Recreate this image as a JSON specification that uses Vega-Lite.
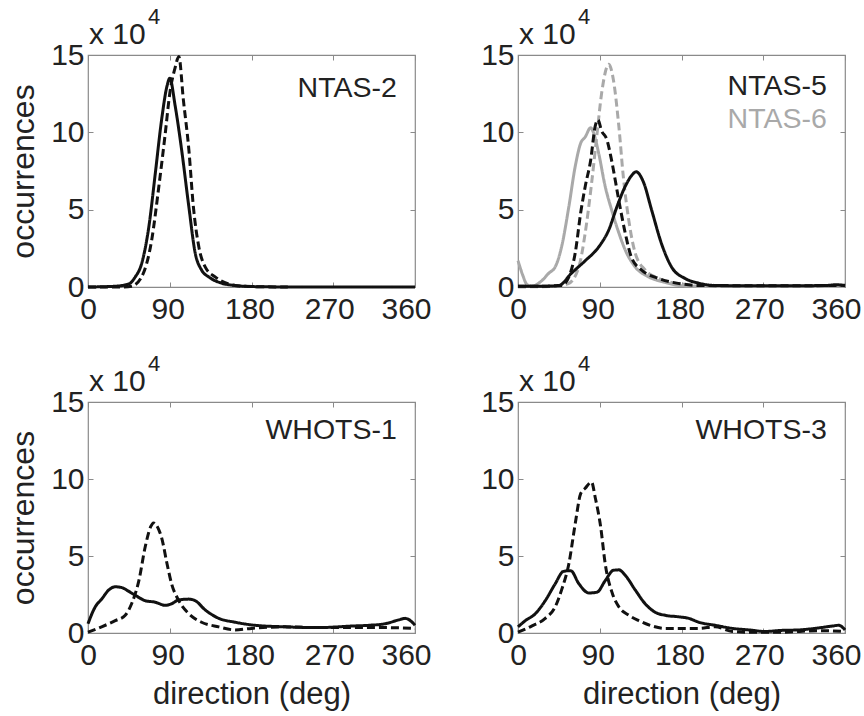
{
  "$schema": "https://vega.github.io/schema/vega-lite/v6.json",
  "background": "white",
  "padding": {"left": 7, "top": 5, "right": 2, "bottom": 2},
  "config": {
    "font": "Liberation Sans",
    "view": {"stroke": "#8a8a8a", "strokeWidth": 1.2},
    "axis": {"grid": false, "domain": false, "tickSize": -5, "tickColor": "#8a8a8a", "tickWidth": 1, "labelFontSize": 30, "labelColor": "#222", "labelFlush": false, "labelOverlap": false, "titleFontSize": 32, "titleFontWeight": "normal", "titleColor": "#222"},
    "axisX": {"labelPadding": 12, "labelOffset": {"condition": [{"test": "datum.value === 360", "value": -9}, {"test": "datum.value === 270", "value": -4}, {"test": "datum.value === 0", "value": 0}], "value": -2}},
    "axisY": {"labelPadding": 9},
    "line": {"strokeWidth": 3, "interpolate": "monotone"},
    "text": {"fontSize": 28.5, "align": "right", "baseline": "alphabetic", "color": "#222"}
  },
  "datasets": {
    "curves": [
      {"panel":"NTAS-2","mooring":"NTAS-2","style":"solid","dir":0,"occ":0},
      {"panel":"NTAS-2","mooring":"NTAS-2","style":"solid","dir":30,"occ":500},
      {"panel":"NTAS-2","mooring":"NTAS-2","style":"solid","dir":45,"occ":2000},
      {"panel":"NTAS-2","mooring":"NTAS-2","style":"solid","dir":52,"occ":6500},
      {"panel":"NTAS-2","mooring":"NTAS-2","style":"solid","dir":59,"occ":15000},
      {"panel":"NTAS-2","mooring":"NTAS-2","style":"solid","dir":67,"occ":39000},
      {"panel":"NTAS-2","mooring":"NTAS-2","style":"solid","dir":74,"occ":73000},
      {"panel":"NTAS-2","mooring":"NTAS-2","style":"solid","dir":81,"occ":108000},
      {"panel":"NTAS-2","mooring":"NTAS-2","style":"solid","dir":87,"occ":130000},
      {"panel":"NTAS-2","mooring":"NTAS-2","style":"solid","dir":90,"occ":135000},
      {"panel":"NTAS-2","mooring":"NTAS-2","style":"solid","dir":96,"occ":117000},
      {"panel":"NTAS-2","mooring":"NTAS-2","style":"solid","dir":103,"occ":89000},
      {"panel":"NTAS-2","mooring":"NTAS-2","style":"solid","dir":111,"occ":52000},
      {"panel":"NTAS-2","mooring":"NTAS-2","style":"solid","dir":118,"occ":22000},
      {"panel":"NTAS-2","mooring":"NTAS-2","style":"solid","dir":125,"occ":11000},
      {"panel":"NTAS-2","mooring":"NTAS-2","style":"solid","dir":133,"occ":6500},
      {"panel":"NTAS-2","mooring":"NTAS-2","style":"solid","dir":147,"occ":2500},
      {"panel":"NTAS-2","mooring":"NTAS-2","style":"solid","dir":162,"occ":1000},
      {"panel":"NTAS-2","mooring":"NTAS-2","style":"solid","dir":180,"occ":300},
      {"panel":"NTAS-2","mooring":"NTAS-2","style":"solid","dir":220,"occ":0},
      {"panel":"NTAS-2","mooring":"NTAS-2","style":"solid","dir":360,"occ":0},
      {"panel":"NTAS-2","mooring":"NTAS-2","style":"dashed","dir":0,"occ":0},
      {"panel":"NTAS-2","mooring":"NTAS-2","style":"dashed","dir":40,"occ":0},
      {"panel":"NTAS-2","mooring":"NTAS-2","style":"dashed","dir":48,"occ":500},
      {"panel":"NTAS-2","mooring":"NTAS-2","style":"dashed","dir":59,"occ":6500},
      {"panel":"NTAS-2","mooring":"NTAS-2","style":"dashed","dir":70,"occ":30000},
      {"panel":"NTAS-2","mooring":"NTAS-2","style":"dashed","dir":78,"occ":65000},
      {"panel":"NTAS-2","mooring":"NTAS-2","style":"dashed","dir":85,"occ":99000},
      {"panel":"NTAS-2","mooring":"NTAS-2","style":"dashed","dir":90,"occ":125000},
      {"panel":"NTAS-2","mooring":"NTAS-2","style":"dashed","dir":96,"occ":142000},
      {"panel":"NTAS-2","mooring":"NTAS-2","style":"dashed","dir":100,"occ":149000},
      {"panel":"NTAS-2","mooring":"NTAS-2","style":"dashed","dir":105,"occ":121000},
      {"panel":"NTAS-2","mooring":"NTAS-2","style":"dashed","dir":111,"occ":89000},
      {"panel":"NTAS-2","mooring":"NTAS-2","style":"dashed","dir":116,"occ":52000},
      {"panel":"NTAS-2","mooring":"NTAS-2","style":"dashed","dir":122,"occ":26000},
      {"panel":"NTAS-2","mooring":"NTAS-2","style":"dashed","dir":129,"occ":13000},
      {"panel":"NTAS-2","mooring":"NTAS-2","style":"dashed","dir":140,"occ":6500},
      {"panel":"NTAS-2","mooring":"NTAS-2","style":"dashed","dir":155,"occ":2000},
      {"panel":"NTAS-2","mooring":"NTAS-2","style":"dashed","dir":170,"occ":500},
      {"panel":"NTAS-2","mooring":"NTAS-2","style":"dashed","dir":200,"occ":100},
      {"panel":"NTAS-2","mooring":"NTAS-2","style":"dashed","dir":220,"occ":0},

      {"panel":"NTAS-5","mooring":"NTAS-6","style":"solid","dir":0,"occ":17000},
      {"panel":"NTAS-5","mooring":"NTAS-6","style":"solid","dir":5,"occ":8000},
      {"panel":"NTAS-5","mooring":"NTAS-6","style":"solid","dir":10,"occ":1500},
      {"panel":"NTAS-5","mooring":"NTAS-6","style":"solid","dir":15,"occ":500},
      {"panel":"NTAS-5","mooring":"NTAS-6","style":"solid","dir":26,"occ":4000},
      {"panel":"NTAS-5","mooring":"NTAS-6","style":"solid","dir":34,"occ":9000},
      {"panel":"NTAS-5","mooring":"NTAS-6","style":"solid","dir":41,"occ":13000},
      {"panel":"NTAS-5","mooring":"NTAS-6","style":"solid","dir":48,"occ":26000},
      {"panel":"NTAS-5","mooring":"NTAS-6","style":"solid","dir":56,"occ":52000},
      {"panel":"NTAS-5","mooring":"NTAS-6","style":"solid","dir":63,"occ":78000},
      {"panel":"NTAS-5","mooring":"NTAS-6","style":"solid","dir":69,"occ":93000},
      {"panel":"NTAS-5","mooring":"NTAS-6","style":"solid","dir":74,"occ":97000},
      {"panel":"NTAS-5","mooring":"NTAS-6","style":"solid","dir":80,"occ":103000},
      {"panel":"NTAS-5","mooring":"NTAS-6","style":"solid","dir":83,"occ":100000},
      {"panel":"NTAS-5","mooring":"NTAS-6","style":"solid","dir":89,"occ":86000},
      {"panel":"NTAS-5","mooring":"NTAS-6","style":"solid","dir":96,"occ":65000},
      {"panel":"NTAS-5","mooring":"NTAS-6","style":"solid","dir":103,"occ":50000},
      {"panel":"NTAS-5","mooring":"NTAS-6","style":"solid","dir":111,"occ":35000},
      {"panel":"NTAS-5","mooring":"NTAS-6","style":"solid","dir":118,"occ":24000},
      {"panel":"NTAS-5","mooring":"NTAS-6","style":"solid","dir":129,"occ":13000},
      {"panel":"NTAS-5","mooring":"NTAS-6","style":"solid","dir":144,"occ":6500},
      {"panel":"NTAS-5","mooring":"NTAS-6","style":"solid","dir":162,"occ":3000},
      {"panel":"NTAS-5","mooring":"NTAS-6","style":"solid","dir":180,"occ":800},
      {"panel":"NTAS-5","mooring":"NTAS-6","style":"solid","dir":220,"occ":300},
      {"panel":"NTAS-5","mooring":"NTAS-6","style":"solid","dir":360,"occ":300},
      {"panel":"NTAS-5","mooring":"NTAS-6","style":"dashed","dir":0,"occ":0},
      {"panel":"NTAS-5","mooring":"NTAS-6","style":"dashed","dir":40,"occ":500},
      {"panel":"NTAS-5","mooring":"NTAS-6","style":"dashed","dir":55,"occ":2000},
      {"panel":"NTAS-5","mooring":"NTAS-6","style":"dashed","dir":67,"occ":13000},
      {"panel":"NTAS-5","mooring":"NTAS-6","style":"dashed","dir":74,"occ":35000},
      {"panel":"NTAS-5","mooring":"NTAS-6","style":"dashed","dir":81,"occ":67000},
      {"panel":"NTAS-5","mooring":"NTAS-6","style":"dashed","dir":87,"occ":99000},
      {"panel":"NTAS-5","mooring":"NTAS-6","style":"dashed","dir":92,"occ":125000},
      {"panel":"NTAS-5","mooring":"NTAS-6","style":"dashed","dir":100,"occ":144000},
      {"panel":"NTAS-5","mooring":"NTAS-6","style":"dashed","dir":105,"occ":134000},
      {"panel":"NTAS-5","mooring":"NTAS-6","style":"dashed","dir":111,"occ":104000},
      {"panel":"NTAS-5","mooring":"NTAS-6","style":"dashed","dir":116,"occ":71000},
      {"panel":"NTAS-5","mooring":"NTAS-6","style":"dashed","dir":122,"occ":43000},
      {"panel":"NTAS-5","mooring":"NTAS-6","style":"dashed","dir":129,"occ":22000},
      {"panel":"NTAS-5","mooring":"NTAS-6","style":"dashed","dir":140,"occ":11000},
      {"panel":"NTAS-5","mooring":"NTAS-6","style":"dashed","dir":155,"occ":5500},
      {"panel":"NTAS-5","mooring":"NTAS-6","style":"dashed","dir":180,"occ":2000},
      {"panel":"NTAS-5","mooring":"NTAS-6","style":"dashed","dir":200,"occ":500},
      {"panel":"NTAS-5","mooring":"NTAS-6","style":"dashed","dir":360,"occ":300},
      {"panel":"NTAS-5","mooring":"NTAS-5","style":"solid","dir":0,"occ":500},
      {"panel":"NTAS-5","mooring":"NTAS-5","style":"solid","dir":26,"occ":500},
      {"panel":"NTAS-5","mooring":"NTAS-5","style":"solid","dir":45,"occ":1000},
      {"panel":"NTAS-5","mooring":"NTAS-5","style":"solid","dir":59,"occ":9000},
      {"panel":"NTAS-5","mooring":"NTAS-5","style":"solid","dir":74,"occ":17000},
      {"panel":"NTAS-5","mooring":"NTAS-5","style":"solid","dir":89,"occ":26000},
      {"panel":"NTAS-5","mooring":"NTAS-5","style":"solid","dir":100,"occ":37000},
      {"panel":"NTAS-5","mooring":"NTAS-5","style":"solid","dir":109,"occ":52000},
      {"panel":"NTAS-5","mooring":"NTAS-5","style":"solid","dir":118,"occ":65000},
      {"panel":"NTAS-5","mooring":"NTAS-5","style":"solid","dir":125,"occ":72000},
      {"panel":"NTAS-5","mooring":"NTAS-5","style":"solid","dir":130,"occ":74500},
      {"panel":"NTAS-5","mooring":"NTAS-5","style":"solid","dir":138,"occ":68000},
      {"panel":"NTAS-5","mooring":"NTAS-5","style":"solid","dir":147,"occ":50000},
      {"panel":"NTAS-5","mooring":"NTAS-5","style":"solid","dir":158,"occ":28000},
      {"panel":"NTAS-5","mooring":"NTAS-5","style":"solid","dir":169,"occ":13000},
      {"panel":"NTAS-5","mooring":"NTAS-5","style":"solid","dir":184,"occ":5500},
      {"panel":"NTAS-5","mooring":"NTAS-5","style":"solid","dir":199,"occ":2500},
      {"panel":"NTAS-5","mooring":"NTAS-5","style":"solid","dir":217,"occ":1000},
      {"panel":"NTAS-5","mooring":"NTAS-5","style":"solid","dir":260,"occ":800},
      {"panel":"NTAS-5","mooring":"NTAS-5","style":"solid","dir":300,"occ":800},
      {"panel":"NTAS-5","mooring":"NTAS-5","style":"solid","dir":340,"occ":1000},
      {"panel":"NTAS-5","mooring":"NTAS-5","style":"solid","dir":350,"occ":1500},
      {"panel":"NTAS-5","mooring":"NTAS-5","style":"solid","dir":360,"occ":800},
      {"panel":"NTAS-5","mooring":"NTAS-5","style":"dashed","dir":0,"occ":500},
      {"panel":"NTAS-5","mooring":"NTAS-5","style":"dashed","dir":30,"occ":500},
      {"panel":"NTAS-5","mooring":"NTAS-5","style":"dashed","dir":48,"occ":1000},
      {"panel":"NTAS-5","mooring":"NTAS-5","style":"dashed","dir":56,"occ":6500},
      {"panel":"NTAS-5","mooring":"NTAS-5","style":"dashed","dir":63,"occ":22000},
      {"panel":"NTAS-5","mooring":"NTAS-5","style":"dashed","dir":69,"occ":48000},
      {"panel":"NTAS-5","mooring":"NTAS-5","style":"dashed","dir":74,"occ":65000},
      {"panel":"NTAS-5","mooring":"NTAS-5","style":"dashed","dir":80,"occ":82000},
      {"panel":"NTAS-5","mooring":"NTAS-5","style":"dashed","dir":85,"occ":104000},
      {"panel":"NTAS-5","mooring":"NTAS-5","style":"dashed","dir":88,"occ":108000},
      {"panel":"NTAS-5","mooring":"NTAS-5","style":"dashed","dir":92,"occ":101000},
      {"panel":"NTAS-5","mooring":"NTAS-5","style":"dashed","dir":98,"occ":95000},
      {"panel":"NTAS-5","mooring":"NTAS-5","style":"dashed","dir":103,"occ":82000},
      {"panel":"NTAS-5","mooring":"NTAS-5","style":"dashed","dir":111,"occ":56000},
      {"panel":"NTAS-5","mooring":"NTAS-5","style":"dashed","dir":118,"occ":35000},
      {"panel":"NTAS-5","mooring":"NTAS-5","style":"dashed","dir":125,"occ":19000},
      {"panel":"NTAS-5","mooring":"NTAS-5","style":"dashed","dir":136,"occ":11000},
      {"panel":"NTAS-5","mooring":"NTAS-5","style":"dashed","dir":155,"occ":5500},
      {"panel":"NTAS-5","mooring":"NTAS-5","style":"dashed","dir":180,"occ":2000},
      {"panel":"NTAS-5","mooring":"NTAS-5","style":"dashed","dir":199,"occ":1000},
      {"panel":"NTAS-5","mooring":"NTAS-5","style":"dashed","dir":250,"occ":800},
      {"panel":"NTAS-5","mooring":"NTAS-5","style":"dashed","dir":300,"occ":800},
      {"panel":"NTAS-5","mooring":"NTAS-5","style":"dashed","dir":350,"occ":1000},
      {"panel":"NTAS-5","mooring":"NTAS-5","style":"dashed","dir":360,"occ":1200},

      {"panel":"WHOTS-1","mooring":"WHOTS-1","style":"solid","dir":0,"occ":6000},
      {"panel":"WHOTS-1","mooring":"WHOTS-1","style":"solid","dir":8,"occ":17000},
      {"panel":"WHOTS-1","mooring":"WHOTS-1","style":"solid","dir":15,"occ":22000},
      {"panel":"WHOTS-1","mooring":"WHOTS-1","style":"solid","dir":23,"occ":28000},
      {"panel":"WHOTS-1","mooring":"WHOTS-1","style":"solid","dir":30,"occ":30000},
      {"panel":"WHOTS-1","mooring":"WHOTS-1","style":"solid","dir":37,"occ":29500},
      {"panel":"WHOTS-1","mooring":"WHOTS-1","style":"solid","dir":45,"occ":27000},
      {"panel":"WHOTS-1","mooring":"WHOTS-1","style":"solid","dir":52,"occ":24500},
      {"panel":"WHOTS-1","mooring":"WHOTS-1","style":"solid","dir":63,"occ":21000},
      {"panel":"WHOTS-1","mooring":"WHOTS-1","style":"solid","dir":74,"occ":20000},
      {"panel":"WHOTS-1","mooring":"WHOTS-1","style":"solid","dir":85,"occ":18000},
      {"panel":"WHOTS-1","mooring":"WHOTS-1","style":"solid","dir":92,"occ":19000},
      {"panel":"WHOTS-1","mooring":"WHOTS-1","style":"solid","dir":100,"occ":21500},
      {"panel":"WHOTS-1","mooring":"WHOTS-1","style":"solid","dir":111,"occ":22000},
      {"panel":"WHOTS-1","mooring":"WHOTS-1","style":"solid","dir":118,"occ":21000},
      {"panel":"WHOTS-1","mooring":"WHOTS-1","style":"solid","dir":129,"occ":15000},
      {"panel":"WHOTS-1","mooring":"WHOTS-1","style":"solid","dir":144,"occ":9500},
      {"panel":"WHOTS-1","mooring":"WHOTS-1","style":"solid","dir":162,"occ":7000},
      {"panel":"WHOTS-1","mooring":"WHOTS-1","style":"solid","dir":184,"occ":5000},
      {"panel":"WHOTS-1","mooring":"WHOTS-1","style":"solid","dir":217,"occ":4000},
      {"panel":"WHOTS-1","mooring":"WHOTS-1","style":"solid","dir":254,"occ":3500},
      {"panel":"WHOTS-1","mooring":"WHOTS-1","style":"solid","dir":290,"occ":4500},
      {"panel":"WHOTS-1","mooring":"WHOTS-1","style":"solid","dir":309,"occ":5000},
      {"panel":"WHOTS-1","mooring":"WHOTS-1","style":"solid","dir":327,"occ":6000},
      {"panel":"WHOTS-1","mooring":"WHOTS-1","style":"solid","dir":342,"occ":8500},
      {"panel":"WHOTS-1","mooring":"WHOTS-1","style":"solid","dir":349,"occ":9500},
      {"panel":"WHOTS-1","mooring":"WHOTS-1","style":"solid","dir":355,"occ":8000},
      {"panel":"WHOTS-1","mooring":"WHOTS-1","style":"solid","dir":360,"occ":5000},
      {"panel":"WHOTS-1","mooring":"WHOTS-1","style":"dashed","dir":0,"occ":500},
      {"panel":"WHOTS-1","mooring":"WHOTS-1","style":"dashed","dir":15,"occ":4000},
      {"panel":"WHOTS-1","mooring":"WHOTS-1","style":"dashed","dir":30,"occ":8000},
      {"panel":"WHOTS-1","mooring":"WHOTS-1","style":"dashed","dir":41,"occ":11500},
      {"panel":"WHOTS-1","mooring":"WHOTS-1","style":"dashed","dir":48,"occ":19000},
      {"panel":"WHOTS-1","mooring":"WHOTS-1","style":"dashed","dir":56,"occ":34000},
      {"panel":"WHOTS-1","mooring":"WHOTS-1","style":"dashed","dir":63,"occ":56000},
      {"panel":"WHOTS-1","mooring":"WHOTS-1","style":"dashed","dir":69,"occ":69000},
      {"panel":"WHOTS-1","mooring":"WHOTS-1","style":"dashed","dir":72,"occ":71500},
      {"panel":"WHOTS-1","mooring":"WHOTS-1","style":"dashed","dir":78,"occ":67000},
      {"panel":"WHOTS-1","mooring":"WHOTS-1","style":"dashed","dir":81,"occ":62000},
      {"panel":"WHOTS-1","mooring":"WHOTS-1","style":"dashed","dir":87,"occ":45000},
      {"panel":"WHOTS-1","mooring":"WHOTS-1","style":"dashed","dir":92,"occ":32000},
      {"panel":"WHOTS-1","mooring":"WHOTS-1","style":"dashed","dir":100,"occ":21000},
      {"panel":"WHOTS-1","mooring":"WHOTS-1","style":"dashed","dir":111,"occ":12500},
      {"panel":"WHOTS-1","mooring":"WHOTS-1","style":"dashed","dir":125,"occ":7000},
      {"panel":"WHOTS-1","mooring":"WHOTS-1","style":"dashed","dir":144,"occ":4000},
      {"panel":"WHOTS-1","mooring":"WHOTS-1","style":"dashed","dir":162,"occ":2000},
      {"panel":"WHOTS-1","mooring":"WHOTS-1","style":"dashed","dir":180,"occ":3000},
      {"panel":"WHOTS-1","mooring":"WHOTS-1","style":"dashed","dir":217,"occ":4000},
      {"panel":"WHOTS-1","mooring":"WHOTS-1","style":"dashed","dir":254,"occ":3500},
      {"panel":"WHOTS-1","mooring":"WHOTS-1","style":"dashed","dir":290,"occ":3500},
      {"panel":"WHOTS-1","mooring":"WHOTS-1","style":"dashed","dir":327,"occ":3500},
      {"panel":"WHOTS-1","mooring":"WHOTS-1","style":"dashed","dir":360,"occ":3000},

      {"panel":"WHOTS-3","mooring":"WHOTS-3","style":"solid","dir":0,"occ":4000},
      {"panel":"WHOTS-3","mooring":"WHOTS-3","style":"solid","dir":8,"occ":8000},
      {"panel":"WHOTS-3","mooring":"WHOTS-3","style":"solid","dir":19,"occ":12500},
      {"panel":"WHOTS-3","mooring":"WHOTS-3","style":"solid","dir":30,"occ":21000},
      {"panel":"WHOTS-3","mooring":"WHOTS-3","style":"solid","dir":41,"occ":32000},
      {"panel":"WHOTS-3","mooring":"WHOTS-3","style":"solid","dir":50,"occ":40000},
      {"panel":"WHOTS-3","mooring":"WHOTS-3","style":"solid","dir":58,"occ":40500},
      {"panel":"WHOTS-3","mooring":"WHOTS-3","style":"solid","dir":67,"occ":32000},
      {"panel":"WHOTS-3","mooring":"WHOTS-3","style":"solid","dir":78,"occ":26000},
      {"panel":"WHOTS-3","mooring":"WHOTS-3","style":"solid","dir":87,"occ":26500},
      {"panel":"WHOTS-3","mooring":"WHOTS-3","style":"solid","dir":96,"occ":34000},
      {"panel":"WHOTS-3","mooring":"WHOTS-3","style":"solid","dir":105,"occ":40700},
      {"panel":"WHOTS-3","mooring":"WHOTS-3","style":"solid","dir":111,"occ":41000},
      {"panel":"WHOTS-3","mooring":"WHOTS-3","style":"solid","dir":118,"occ":37500},
      {"panel":"WHOTS-3","mooring":"WHOTS-3","style":"solid","dir":129,"occ":28000},
      {"panel":"WHOTS-3","mooring":"WHOTS-3","style":"solid","dir":140,"occ":19000},
      {"panel":"WHOTS-3","mooring":"WHOTS-3","style":"solid","dir":151,"occ":13500},
      {"panel":"WHOTS-3","mooring":"WHOTS-3","style":"solid","dir":162,"occ":11500},
      {"panel":"WHOTS-3","mooring":"WHOTS-3","style":"solid","dir":177,"occ":10500},
      {"panel":"WHOTS-3","mooring":"WHOTS-3","style":"solid","dir":188,"occ":9500},
      {"panel":"WHOTS-3","mooring":"WHOTS-3","style":"solid","dir":199,"occ":7000},
      {"panel":"WHOTS-3","mooring":"WHOTS-3","style":"solid","dir":217,"occ":5000},
      {"panel":"WHOTS-3","mooring":"WHOTS-3","style":"solid","dir":236,"occ":3000},
      {"panel":"WHOTS-3","mooring":"WHOTS-3","style":"solid","dir":254,"occ":2000},
      {"panel":"WHOTS-3","mooring":"WHOTS-3","style":"solid","dir":272,"occ":1000},
      {"panel":"WHOTS-3","mooring":"WHOTS-3","style":"solid","dir":290,"occ":1700},
      {"panel":"WHOTS-3","mooring":"WHOTS-3","style":"solid","dir":309,"occ":2000},
      {"panel":"WHOTS-3","mooring":"WHOTS-3","style":"solid","dir":327,"occ":3000},
      {"panel":"WHOTS-3","mooring":"WHOTS-3","style":"solid","dir":346,"occ":4500},
      {"panel":"WHOTS-3","mooring":"WHOTS-3","style":"solid","dir":353,"occ":5000},
      {"panel":"WHOTS-3","mooring":"WHOTS-3","style":"solid","dir":360,"occ":2000},
      {"panel":"WHOTS-3","mooring":"WHOTS-3","style":"dashed","dir":0,"occ":500},
      {"panel":"WHOTS-3","mooring":"WHOTS-3","style":"dashed","dir":15,"occ":4500},
      {"panel":"WHOTS-3","mooring":"WHOTS-3","style":"dashed","dir":30,"occ":9500},
      {"panel":"WHOTS-3","mooring":"WHOTS-3","style":"dashed","dir":41,"occ":17000},
      {"panel":"WHOTS-3","mooring":"WHOTS-3","style":"dashed","dir":48,"occ":28000},
      {"panel":"WHOTS-3","mooring":"WHOTS-3","style":"dashed","dir":56,"occ":45000},
      {"panel":"WHOTS-3","mooring":"WHOTS-3","style":"dashed","dir":63,"occ":71000},
      {"panel":"WHOTS-3","mooring":"WHOTS-3","style":"dashed","dir":69,"occ":90500},
      {"panel":"WHOTS-3","mooring":"WHOTS-3","style":"dashed","dir":74,"occ":94000},
      {"panel":"WHOTS-3","mooring":"WHOTS-3","style":"dashed","dir":81,"occ":98000},
      {"panel":"WHOTS-3","mooring":"WHOTS-3","style":"dashed","dir":85,"occ":88000},
      {"panel":"WHOTS-3","mooring":"WHOTS-3","style":"dashed","dir":91,"occ":69000},
      {"panel":"WHOTS-3","mooring":"WHOTS-3","style":"dashed","dir":96,"occ":45000},
      {"panel":"WHOTS-3","mooring":"WHOTS-3","style":"dashed","dir":104,"occ":25500},
      {"panel":"WHOTS-3","mooring":"WHOTS-3","style":"dashed","dir":111,"occ":17000},
      {"panel":"WHOTS-3","mooring":"WHOTS-3","style":"dashed","dir":122,"occ":11500},
      {"panel":"WHOTS-3","mooring":"WHOTS-3","style":"dashed","dir":133,"occ":8000},
      {"panel":"WHOTS-3","mooring":"WHOTS-3","style":"dashed","dir":148,"occ":4500},
      {"panel":"WHOTS-3","mooring":"WHOTS-3","style":"dashed","dir":162,"occ":3000},
      {"panel":"WHOTS-3","mooring":"WHOTS-3","style":"dashed","dir":199,"occ":3000},
      {"panel":"WHOTS-3","mooring":"WHOTS-3","style":"dashed","dir":217,"occ":4000},
      {"panel":"WHOTS-3","mooring":"WHOTS-3","style":"dashed","dir":236,"occ":1000},
      {"panel":"WHOTS-3","mooring":"WHOTS-3","style":"dashed","dir":254,"occ":500},
      {"panel":"WHOTS-3","mooring":"WHOTS-3","style":"dashed","dir":290,"occ":500},
      {"panel":"WHOTS-3","mooring":"WHOTS-3","style":"dashed","dir":330,"occ":1500},
      {"panel":"WHOTS-3","mooring":"WHOTS-3","style":"dashed","dir":360,"occ":1000}
    ]
  },
  "bounds": "flush",
  "columns": 2,
  "spacing": {"row": 115, "column": 103},
  "concat": [
    {
      "width": 327, "height": 232,
      "layer": [
        {
          "data": {"name": "curves"},
          "transform": [{"filter": "datum.panel === 'NTAS-2'"}],
          "mark": {"type": "line"},
          "encoding": {
            "x": {"field": "dir", "type": "quantitative", "scale": {"domain": [0, 360], "nice": false}, "axis": {"values": [0, 90, 180, 270, 360], "title": null}},
            "y": {"field": "occ", "type": "quantitative", "scale": {"domain": [0, 150000], "nice": false}, "axis": {"values": [0, 50000, 100000, 150000], "labelExpr": "datum.value / 10000", "title": "occurrences", "titlePadding": 10}},
            "color": {"field": "mooring", "type": "nominal", "scale": {"domain": ["NTAS-2", "NTAS-5", "NTAS-6", "WHOTS-1", "WHOTS-3"], "range": ["#111111", "#111111", "#a9a9a9", "#111111", "#111111"]}, "legend": null},
            "strokeDash": {"field": "style", "type": "nominal", "scale": {"domain": ["solid", "dashed"], "range": [[1, 0], [8, 4]]}, "legend": null}
          }
        },
        {
          "data": {"values": [{}]},
          "mark": {"type": "text", "text": "NTAS-2"},
          "encoding": {
            "x": {"datum": 340, "type": "quantitative", "axis": {"orient": "top", "values": [0, 90, 180, 270, 360], "labels": false, "title": null}},
            "y": {"datum": 123000, "type": "quantitative", "axis": {"orient": "right", "values": [0, 50000, 100000, 150000], "labels": false, "title": null}}
          }
        },
        {
          "data": {"values": [{}]},
          "mark": {"type": "text", "text": "x 10", "fontSize": 30, "align": "left", "dx": 1, "dy": -11},
          "encoding": {"x": {"datum": 0, "type": "quantitative", "axis": null}, "y": {"datum": 150000, "type": "quantitative", "axis": null}}
        },
        {
          "data": {"values": [{}]},
          "mark": {"type": "text", "text": "4", "fontSize": 22, "align": "left", "dx": 60, "dy": -31},
          "encoding": {"x": {"datum": 0, "type": "quantitative", "axis": null}, "y": {"datum": 150000, "type": "quantitative", "axis": null}}
        }
      ],
      "resolve": {"axis": {"x": "independent", "y": "independent"}}
    },
    {
      "width": 327, "height": 232,
      "layer": [
        {
          "data": {"name": "curves"},
          "transform": [{"filter": "datum.panel === 'NTAS-5'"}],
          "mark": {"type": "line"},
          "encoding": {
            "x": {"field": "dir", "type": "quantitative", "scale": {"domain": [0, 360], "nice": false}, "axis": {"values": [0, 90, 180, 270, 360], "title": null}},
            "y": {"field": "occ", "type": "quantitative", "scale": {"domain": [0, 150000], "nice": false}, "axis": {"values": [0, 50000, 100000, 150000], "labelExpr": "datum.value / 10000", "title": null}},
            "color": {"field": "mooring", "type": "nominal", "scale": {"domain": ["NTAS-2", "NTAS-5", "NTAS-6", "WHOTS-1", "WHOTS-3"], "range": ["#111111", "#111111", "#a9a9a9", "#111111", "#111111"]}, "legend": null},
            "strokeDash": {"field": "style", "type": "nominal", "scale": {"domain": ["solid", "dashed"], "range": [[1, 0], [8, 4]]}, "legend": null},
            "strokeWidth": {"field": "mooring", "type": "nominal", "scale": {"domain": ["NTAS-5", "NTAS-6"], "range": [3, 3.5]}, "legend": null}
          }
        },
        {
          "data": {"values": [{}]},
          "mark": {"type": "text", "text": "NTAS-5"},
          "encoding": {
            "x": {"datum": 340, "type": "quantitative", "axis": {"orient": "top", "values": [0, 90, 180, 270, 360], "labels": false, "title": null}},
            "y": {"datum": 124000, "type": "quantitative", "axis": {"orient": "right", "values": [0, 50000, 100000, 150000], "labels": false, "title": null}}
          }
        },
        {
          "data": {"values": [{}]},
          "mark": {"type": "text", "text": "NTAS-6", "color": "#a9a9a9"},
          "encoding": {"x": {"datum": 340, "type": "quantitative", "axis": null}, "y": {"datum": 102500, "type": "quantitative", "axis": null}}
        },
        {
          "data": {"values": [{}]},
          "mark": {"type": "text", "text": "x 10", "fontSize": 30, "align": "left", "dx": 1, "dy": -11},
          "encoding": {"x": {"datum": 0, "type": "quantitative", "axis": null}, "y": {"datum": 150000, "type": "quantitative", "axis": null}}
        },
        {
          "data": {"values": [{}]},
          "mark": {"type": "text", "text": "4", "fontSize": 22, "align": "left", "dx": 60, "dy": -31},
          "encoding": {"x": {"datum": 0, "type": "quantitative", "axis": null}, "y": {"datum": 150000, "type": "quantitative", "axis": null}}
        }
      ],
      "resolve": {"axis": {"x": "independent", "y": "independent"}}
    },
    {
      "width": 327, "height": 231,
      "layer": [
        {
          "data": {"name": "curves"},
          "transform": [{"filter": "datum.panel === 'WHOTS-1'"}],
          "mark": {"type": "line"},
          "encoding": {
            "x": {"field": "dir", "type": "quantitative", "scale": {"domain": [0, 360], "nice": false}, "axis": {"values": [0, 90, 180, 270, 360], "title": "direction (deg)", "titleFontSize": 31, "titlePadding": 9}},
            "y": {"field": "occ", "type": "quantitative", "scale": {"domain": [0, 150000], "nice": false}, "axis": {"values": [0, 50000, 100000, 150000], "labelExpr": "datum.value / 10000", "title": "occurrences", "titlePadding": 10}},
            "color": {"field": "mooring", "type": "nominal", "scale": {"domain": ["NTAS-2", "NTAS-5", "NTAS-6", "WHOTS-1", "WHOTS-3"], "range": ["#111111", "#111111", "#a9a9a9", "#111111", "#111111"]}, "legend": null},
            "strokeDash": {"field": "style", "type": "nominal", "scale": {"domain": ["solid", "dashed"], "range": [[1, 0], [8, 4]]}, "legend": null}
          }
        },
        {
          "data": {"values": [{}]},
          "mark": {"type": "text", "text": "WHOTS-1"},
          "encoding": {
            "x": {"datum": 340, "type": "quantitative", "axis": {"orient": "top", "values": [0, 90, 180, 270, 360], "labels": false, "title": null}},
            "y": {"datum": 126000, "type": "quantitative", "axis": {"orient": "right", "values": [0, 50000, 100000, 150000], "labels": false, "title": null}}
          }
        },
        {
          "data": {"values": [{}]},
          "mark": {"type": "text", "text": "x 10", "fontSize": 30, "align": "left", "dx": 1, "dy": -11},
          "encoding": {"x": {"datum": 0, "type": "quantitative", "axis": null}, "y": {"datum": 150000, "type": "quantitative", "axis": null}}
        },
        {
          "data": {"values": [{}]},
          "mark": {"type": "text", "text": "4", "fontSize": 22, "align": "left", "dx": 60, "dy": -31},
          "encoding": {"x": {"datum": 0, "type": "quantitative", "axis": null}, "y": {"datum": 150000, "type": "quantitative", "axis": null}}
        }
      ],
      "resolve": {"axis": {"x": "independent", "y": "independent"}}
    },
    {
      "width": 327, "height": 231,
      "layer": [
        {
          "data": {"name": "curves"},
          "transform": [{"filter": "datum.panel === 'WHOTS-3'"}],
          "mark": {"type": "line"},
          "encoding": {
            "x": {"field": "dir", "type": "quantitative", "scale": {"domain": [0, 360], "nice": false}, "axis": {"values": [0, 90, 180, 270, 360], "title": "direction (deg)", "titleFontSize": 31, "titlePadding": 9}},
            "y": {"field": "occ", "type": "quantitative", "scale": {"domain": [0, 150000], "nice": false}, "axis": {"values": [0, 50000, 100000, 150000], "labelExpr": "datum.value / 10000", "title": null}},
            "color": {"field": "mooring", "type": "nominal", "scale": {"domain": ["NTAS-2", "NTAS-5", "NTAS-6", "WHOTS-1", "WHOTS-3"], "range": ["#111111", "#111111", "#a9a9a9", "#111111", "#111111"]}, "legend": null},
            "strokeDash": {"field": "style", "type": "nominal", "scale": {"domain": ["solid", "dashed"], "range": [[1, 0], [8, 4]]}, "legend": null}
          }
        },
        {
          "data": {"values": [{}]},
          "mark": {"type": "text", "text": "WHOTS-3"},
          "encoding": {
            "x": {"datum": 340, "type": "quantitative", "axis": {"orient": "top", "values": [0, 90, 180, 270, 360], "labels": false, "title": null}},
            "y": {"datum": 126000, "type": "quantitative", "axis": {"orient": "right", "values": [0, 50000, 100000, 150000], "labels": false, "title": null}}
          }
        },
        {
          "data": {"values": [{}]},
          "mark": {"type": "text", "text": "x 10", "fontSize": 30, "align": "left", "dx": 1, "dy": -11},
          "encoding": {"x": {"datum": 0, "type": "quantitative", "axis": null}, "y": {"datum": 150000, "type": "quantitative", "axis": null}}
        },
        {
          "data": {"values": [{}]},
          "mark": {"type": "text", "text": "4", "fontSize": 22, "align": "left", "dx": 60, "dy": -31},
          "encoding": {"x": {"datum": 0, "type": "quantitative", "axis": null}, "y": {"datum": 150000, "type": "quantitative", "axis": null}}
        }
      ],
      "resolve": {"axis": {"x": "independent", "y": "independent"}}
    }
  ]
}
